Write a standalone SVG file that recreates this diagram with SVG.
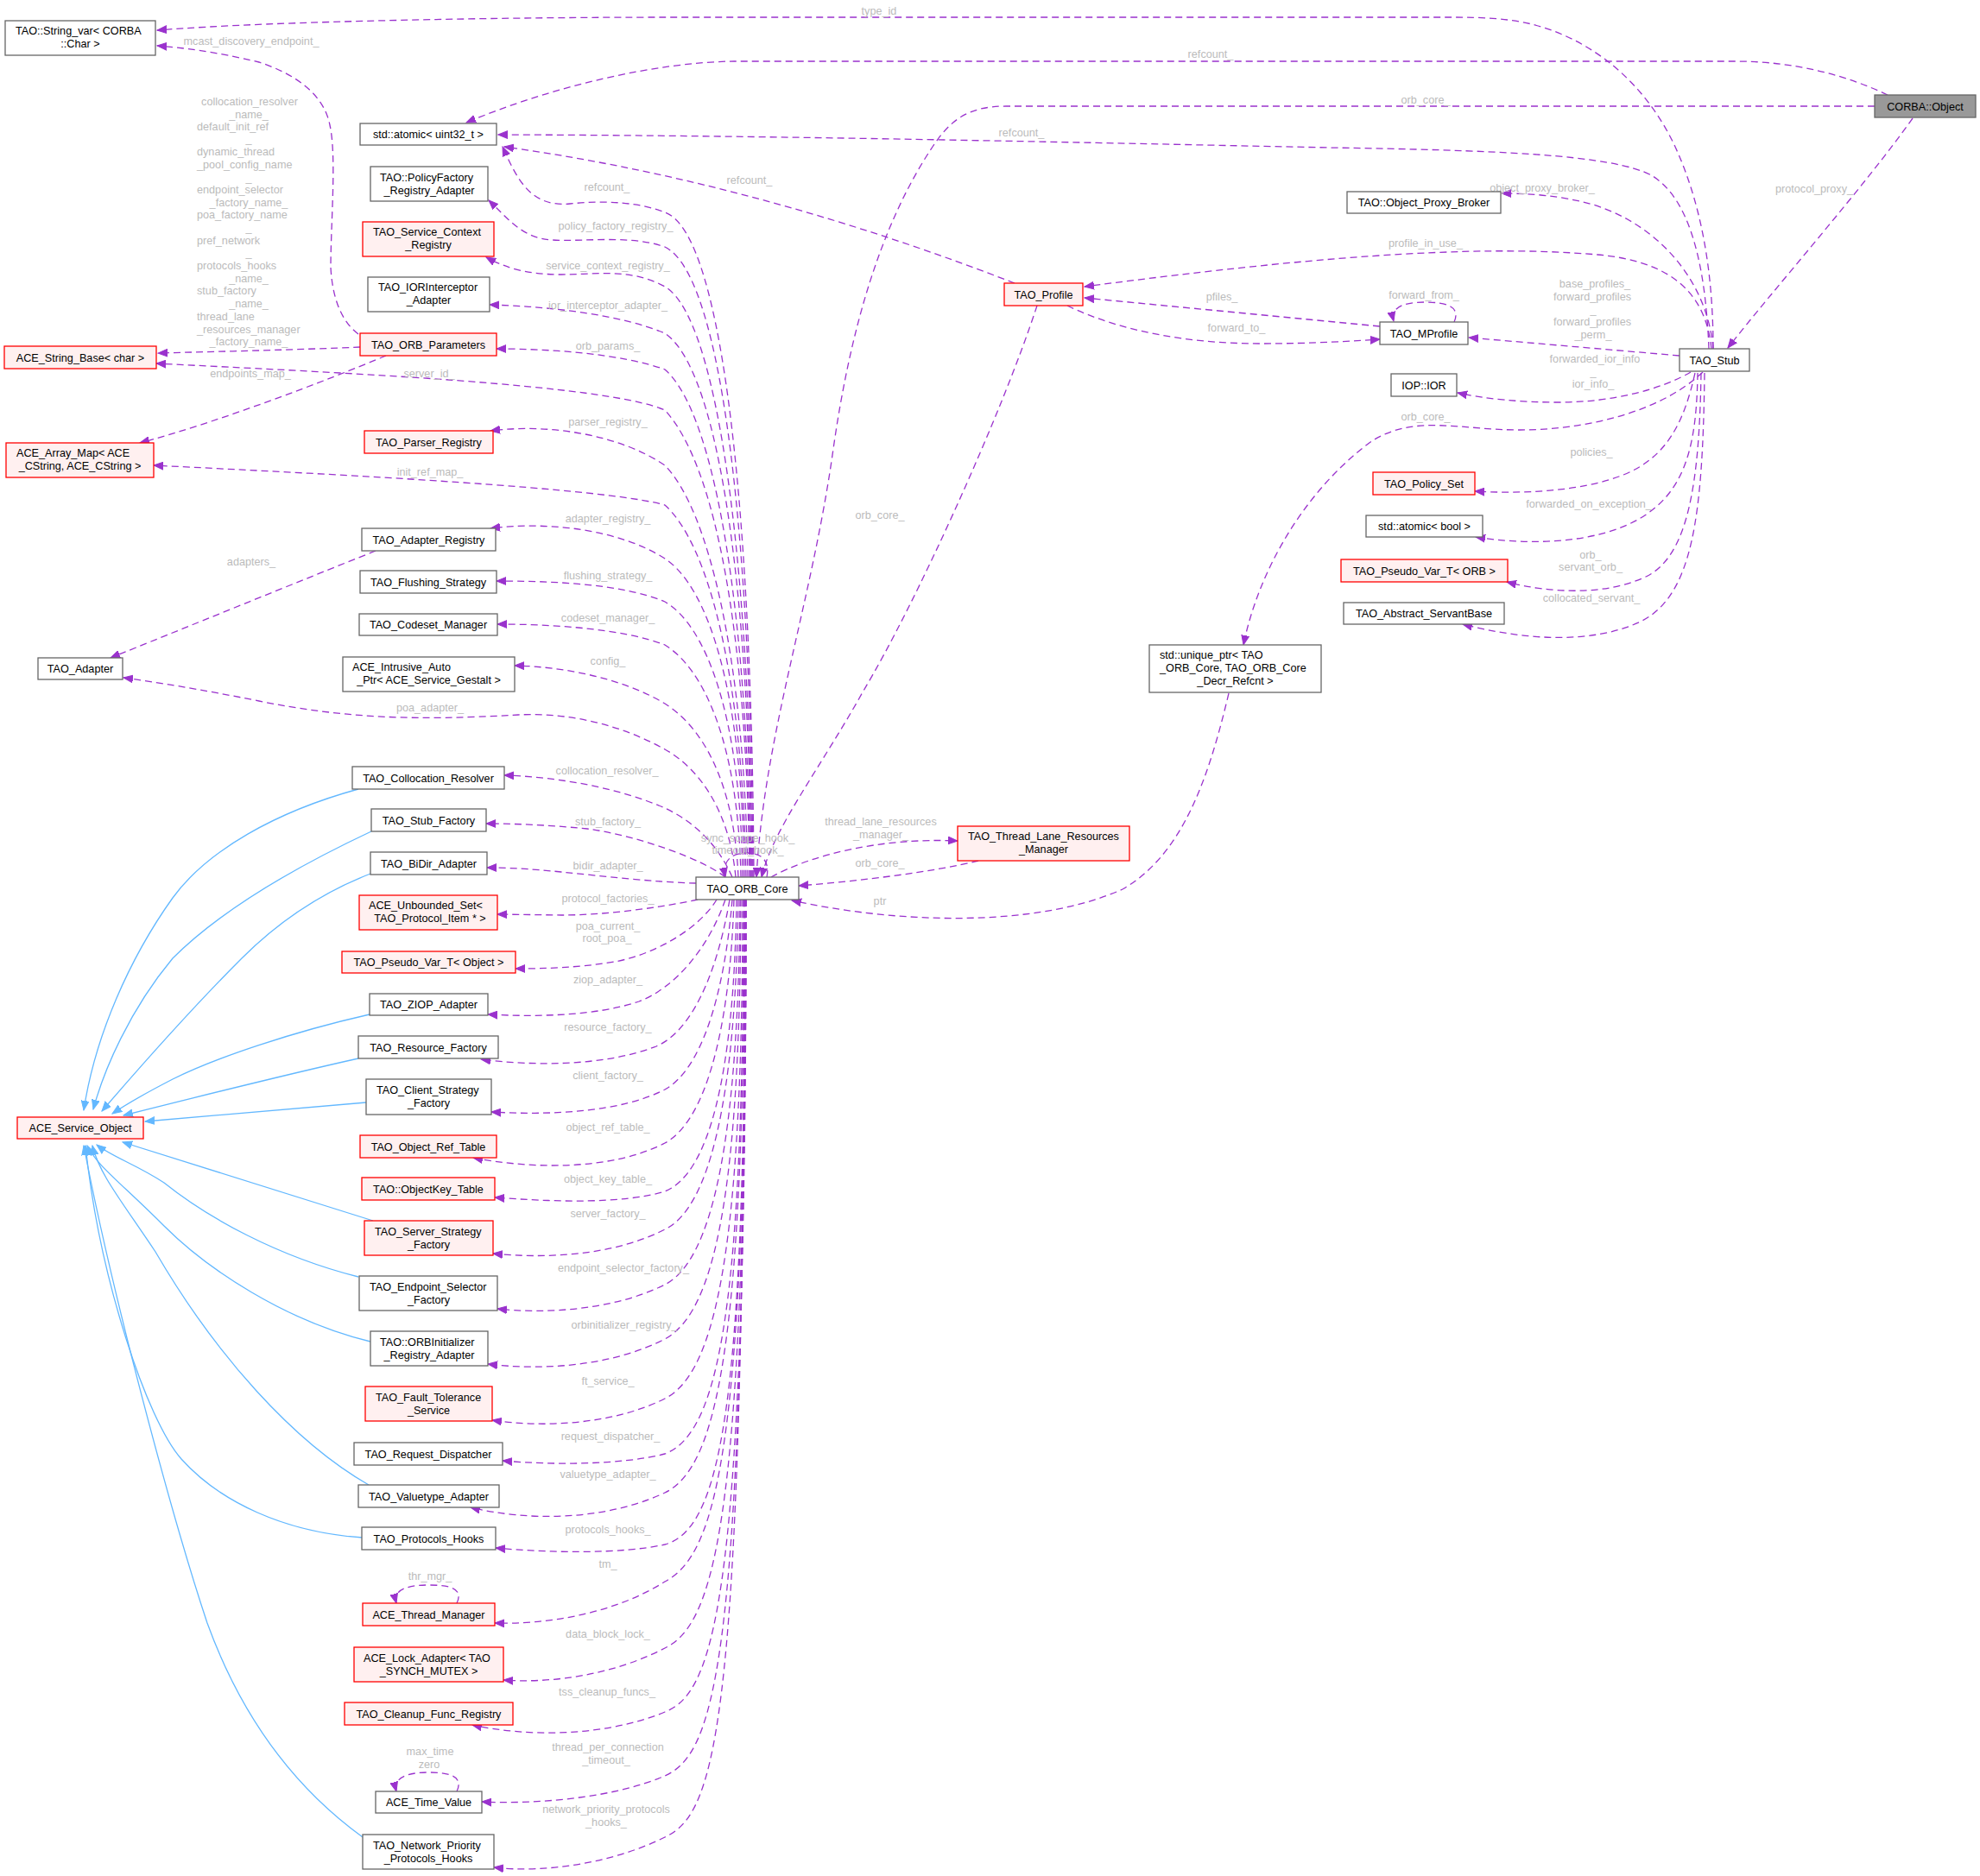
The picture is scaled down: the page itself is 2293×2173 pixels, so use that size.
<svg xmlns="http://www.w3.org/2000/svg" width="2293" height="2173" viewBox="0 0 2293 2173">
<style>
.n{fill:#ffffff;stroke:#666666;stroke-width:1.3}
.r{fill:#fff0f0;stroke:#ff0000;stroke-width:1.3}
.g{fill:#999999;stroke:#666666;stroke-width:1.3}
text{font-family:"Liberation Sans",Arial,sans-serif;font-size:12.67px}
.t{fill:#000000}
.m{text-anchor:middle}
.l{fill:#bbbbbb;text-anchor:middle}
.ls{fill:#bbbbbb;text-anchor:start}
.e{fill:none;stroke:#9a32cd;stroke-width:1.3;stroke-dasharray:8,5;marker-end:url(#ap)}
.b{fill:none;stroke:#63b8ff;stroke-width:1.3;marker-end:url(#ab)}
</style>
<defs>
<marker id="ap" viewBox="0 0 12 10" refX="11" refY="5" markerWidth="12" markerHeight="10" markerUnits="userSpaceOnUse" orient="auto"><path d="M0,0.6 L11,5 L0,9.4 z" fill="#9a32cd" stroke="#9a32cd" stroke-width="1" stroke-dasharray="none"/></marker>
<marker id="ab" viewBox="0 0 12 10" refX="11" refY="5" markerWidth="12" markerHeight="10" markerUnits="userSpaceOnUse" orient="auto"><path d="M0,0.6 L11,5 L0,9.4 z" fill="#63b8ff" stroke="#63b8ff" stroke-width="1" stroke-dasharray="none"/></marker>
</defs>
<rect x="0" y="0" width="2293" height="2173" fill="#ffffff"/>
<g id="edges">
<path class="e" d="M1984,404 C1984,320 1972,240 1940,170 C1905,95 1840,40 1760,25 C1730,20 1700,20 1680,20 L770,20 C600,20 320,24 182,35"/>
<path class="e" d="M2186,110 C2140,88 2080,71 2010,71 L850,71 C760,72 640,100 540,142"/>
<path class="e" d="M2171,123 L1165,123 C1120,123 1100,140 1080,170 C1020,260 985,380 965,520 C940,700 885,850 876,1016"/>
<path class="e" d="M1979,404 C1975,300 1955,230 1914,204 C1870,178 1720,174 1540,171 C1200,164 900,157 577,156"/>
<path class="e" d="M1175,328 C1000,260 800,200 584,170"/>
<path class="e" d="M1984,404 C1978,330 1925,262 1845,237 C1805,226 1770,224 1739,224"/>
<path class="e" d="M2215,137 C2160,215 2050,340 2001,403"/>
<path class="e" d="M1982,404 C1975,335 1930,302 1850,295 C1700,282 1500,300 1256,332"/>
<path class="e" d="M1684,373 C1692,355 1675,350 1650,350 C1625,350 1610,356 1614,372"/>
<path class="e" d="M1945,412 L1701,391"/>
<path class="e" d="M1958,431 C1925,450 1870,466 1805,466 C1760,466 1720,462 1688,455"/>
<path class="e" d="M1598,378 L1256,345"/>
<path class="e" d="M1236,354 C1300,385 1380,398 1460,398 C1520,398 1570,395 1598,393"/>
<path class="e" d="M1972,431 C1920,480 1830,498 1760,498 C1690,498 1640,480 1590,510 C1520,560 1460,650 1440,747"/>
<path class="e" d="M1963,432 C1950,490 1930,530 1880,550 C1830,570 1760,572 1708,569"/>
<path class="e" d="M1966,432 C1965,520 1950,570 1900,600 C1850,630 1770,632 1709,622"/>
<path class="e" d="M1970,432 C1968,560 1955,640 1910,666 C1860,692 1790,686 1745,674"/>
<path class="e" d="M1974,432 C1972,600 1960,690 1900,720 C1840,748 1760,740 1694,723"/>
<path class="e" d="M1201,354 C1160,480 1060,700 1000,800 C950,890 895,960 882,1016"/>
<path class="e" d="M893,1016 C940,990 1020,970 1109,974"/>
<path class="e" d="M1133,997 C1080,1010 1000,1020 925,1026"/>
<path class="e" d="M1423,803 C1400,900 1370,990 1300,1030 C1200,1075 1040,1070 917,1043"/>
<path class="e" d="M888,1016 C892,995 880,988 865,988 C848,988 836,996 840,1016"/>
<path class="e" d="M415,387 C395,372 385,345 383,310 C383,260 390,180 382,145 C375,108 340,85 300,72 C250,60 210,55 182,53"/>
<path class="e" d="M417,402 C350,405 260,407 183,409"/>
<path class="e" d="M447,412 C380,440 250,490 162,513"/>
<path class="e" d="M435,638 C350,672 200,733 128,762"/>
<path class="e" d="M529,1857 C537,1840 522,1836 496,1836 C470,1836 455,1842 459,1857"/>
<path class="e" d="M529,2075 C537,2058 522,2053 496,2053 C470,2053 455,2060 459,2075"/>
<path class="e" d="M873,1016 C871,620 840,270 770,246 C740,234 700,232 660,236 C615,240 600,210 582,170"/>
<path class="e" d="M872,1016 C870,650 840,320 770,286 C730,272 680,280 640,278 C605,276 590,255 566,232"/>
<path class="e" d="M871,1016 C869,680 835,370 770,332 C730,310 690,318 650,318 C610,318 585,310 563,298"/>
<path class="e" d="M870,1016 C868,700 835,430 770,386 C720,365 640,355 567,353"/>
<path class="e" d="M869,1016 C866,720 830,480 770,428 C720,410 640,404 575,404"/>
<path class="e" d="M868,1016 C865,740 830,540 770,475 C700,445 400,432 181,421"/>
<path class="e" d="M866,1016 C862,760 820,590 770,539 C720,505 640,490 568,499"/>
<path class="e" d="M864,1016 C860,780 820,630 770,585 C700,565 400,550 178,539"/>
<path class="e" d="M862,1016 C860,800 820,680 770,647 C720,615 640,603 568,612"/>
<path class="e" d="M860,1016 C858,830 818,725 770,697 C720,676 640,673 575,673"/>
<path class="e" d="M858,1016 C855,860 815,775 770,747 C720,728 640,723 576,723"/>
<path class="e" d="M855,1016 C850,900 810,840 770,815 C720,785 650,772 596,771"/>
<path class="e" d="M852,1016 C845,940 810,890 770,868 C720,840 660,825 600,828 C480,835 400,832 300,812 C230,798 180,790 143,785"/>
<path class="e" d="M848,1016 C830,975 800,950 770,936 C720,914 650,900 584,898"/>
<path class="e" d="M840,1016 C815,996 740,968 680,960 C630,955 590,954 563,954"/>
<path class="e" d="M806,1023 C760,1022 700,1015 650,1010 C610,1006 585,1005 564,1005"/>
<path class="e" d="M808,1042 C760,1052 700,1060 650,1060 L576,1059"/>
<path class="e" d="M830,1042 C810,1075 760,1105 712,1114 C670,1121 630,1122 597,1122"/>
<path class="e" d="M840,1042 C820,1100 780,1145 740,1160 C690,1177 620,1178 565,1175"/>
<path class="e" d="M845,1042 C830,1130 800,1195 760,1212 C700,1235 620,1235 557,1227"/>
<path class="e" d="M848,1042 C838,1160 810,1240 770,1262 C720,1288 640,1292 569,1288"/>
<path class="e" d="M850,1042 C845,1200 815,1300 770,1324 C710,1355 620,1355 548,1341"/>
<path class="e" d="M853,1042 C850,1250 820,1360 770,1380 C720,1395 640,1392 573,1387"/>
<path class="e" d="M855,1042 C852,1280 820,1400 770,1424 C710,1455 630,1458 571,1452"/>
<path class="e" d="M857,1042 C855,1320 825,1460 770,1488 C710,1518 630,1522 576,1516"/>
<path class="e" d="M858,1042 C857,1380 828,1520 770,1551 C710,1582 630,1588 565,1580"/>
<path class="e" d="M860,1042 C860,1440 830,1590 770,1620 C710,1650 630,1654 570,1645"/>
<path class="e" d="M861,1042 C861,1500 835,1660 770,1684 C720,1697 640,1697 582,1692"/>
<path class="e" d="M862,1042 C862,1560 830,1700 770,1729 C700,1762 610,1762 545,1746"/>
<path class="e" d="M863,1042 C863,1600 840,1770 770,1789 C720,1800 640,1799 574,1793"/>
<path class="e" d="M864,1042 C864,1680 830,1800 770,1832 C710,1870 630,1882 573,1880"/>
<path class="e" d="M864,1042 C864,1750 830,1880 770,1909 C710,1940 640,1950 583,1946"/>
<path class="e" d="M864,1042 C864,1840 830,1960 770,1983 C700,2012 610,2012 547,1998"/>
<path class="e" d="M863,1042 C863,1920 830,2030 770,2057 C710,2083 620,2090 558,2087"/>
<path class="e" d="M862,1042 C862,2000 830,2100 770,2128 C710,2158 630,2170 572,2163"/>
<path class="b" d="M415,914 C320,940 240,985 200,1040 C150,1110 110,1200 97,1286"/>
<path class="b" d="M430,963 C330,1010 250,1060 200,1110 C150,1170 120,1240 108,1285"/>
<path class="b" d="M429,1012 C370,1035 320,1070 280,1110 C210,1180 150,1250 118,1287"/>
<path class="b" d="M428,1175 C340,1195 250,1225 200,1250 C165,1268 145,1280 130,1290"/>
<path class="b" d="M415,1226 C330,1245 250,1265 143,1292"/>
<path class="b" d="M424,1277 L168,1299"/>
<path class="b" d="M432,1414 L142,1323"/>
<path class="b" d="M415,1479 C320,1455 240,1410 190,1370 C160,1350 130,1340 112,1326"/>
<path class="b" d="M429,1554 C330,1530 240,1470 190,1420 C140,1370 112,1350 101,1327"/>
<path class="b" d="M427,1720 C340,1670 250,1570 180,1450 C140,1390 115,1360 107,1327"/>
<path class="b" d="M420,1781 C330,1775 255,1740 210,1690 C170,1645 115,1480 99,1327"/>
<path class="b" d="M420,2128 C340,2070 280,1990 240,1880 C200,1760 130,1500 97,1327"/>
<text class="l" x="1018" y="16.5">type_id</text>
<text class="l" x="1402" y="67">refcount_</text>
<text class="l" x="1651" y="119.5">orb_core_</text>
<text class="l" x="1183" y="157.5">refcount_</text>
<text class="l" x="868" y="212.5">refcount_</text>
<text class="l" x="1786" y="221.5">object_proxy_broker_</text>
<text class="l" x="2101" y="223">protocol_proxy_</text>
<text class="l" x="1651" y="285.5">profile_in_use_</text>
<text class="l" x="1649" y="346">forward_from_</text>
<text class="l" x="1415" y="348">pfiles_</text>
<text class="l" x="1432" y="384">forward_to_</text>
<text class="l" x="1847" y="333">base_profiles_</text>
<text class="l" x="1844" y="348">forward_profiles</text>
<text class="l" x="1845" y="362.5">_</text>
<text class="l" x="1844" y="377">forward_profiles</text>
<text class="l" x="1845" y="392">_perm_</text>
<text class="l" x="1847" y="420">forwarded_ior_info</text>
<text class="l" x="1845" y="434.5">_</text>
<text class="l" x="1845" y="449">ior_info_</text>
<text class="l" x="1651" y="487">orb_core_</text>
<text class="l" x="1843" y="528">policies_</text>
<text class="l" x="1840" y="588">forwarded_on_exception_</text>
<text class="l" x="1842" y="647">orb_</text>
<text class="l" x="1842" y="661">servant_orb_</text>
<text class="l" x="1843" y="697">collocated_servant_</text>
<text class="l" x="1019" y="600.5">orb_core_</text>
<text class="l" x="1020" y="956">thread_lane_resources</text>
<text class="l" x="1020" y="971">_manager_</text>
<text class="l" x="1019" y="1004">orb_core_</text>
<text class="l" x="1019" y="1047.5">ptr</text>
<text class="l" x="866" y="974.5">sync_scope_hook_</text>
<text class="l" x="866" y="989">timeout_hook_</text>
<text class="l" x="291" y="51.5">mcast_discovery_endpoint_</text>
<text class="l" x="289" y="121.5">collocation_resolver</text>
<text class="l" x="288" y="136.5">_name_</text>
<text class="ls" x="228" y="151">default_init_ref</text>
<text class="l" x="288" y="165">_</text>
<text class="ls" x="228" y="180">dynamic_thread</text>
<text class="ls" x="228" y="195">_pool_config_name</text>
<text class="l" x="288" y="209.5">_</text>
<text class="ls" x="228" y="224">endpoint_selector</text>
<text class="l" x="288" y="239">_factory_name_</text>
<text class="ls" x="228" y="253">poa_factory_name</text>
<text class="l" x="288" y="268">_</text>
<text class="ls" x="228" y="283">pref_network</text>
<text class="l" x="288" y="297">_</text>
<text class="ls" x="228" y="312">protocols_hooks</text>
<text class="l" x="288" y="327">_name_</text>
<text class="ls" x="228" y="341">stub_factory</text>
<text class="l" x="288" y="356">_name_</text>
<text class="ls" x="228" y="371">thread_lane</text>
<text class="ls" x="228" y="385.5">_resources_manager</text>
<text class="l" x="288" y="400">_factory_name_</text>
<text class="l" x="290" y="436.5">endpoints_map_</text>
<text class="l" x="291" y="655">adapters_</text>
<text class="l" x="497" y="436.5">server_id_</text>
<text class="l" x="498" y="550.5">init_ref_map_</text>
<text class="l" x="498" y="824">poa_adapter_</text>
<text class="l" x="498" y="1830">thr_mgr_</text>
<text class="l" x="498" y="2033">max_time</text>
<text class="l" x="497" y="2047.5">zero</text>
<text class="l" x="703" y="220.5">refcount_</text>
<text class="l" x="713" y="266">policy_factory_registry_</text>
<text class="l" x="704" y="311.5">service_context_registry_</text>
<text class="l" x="704" y="357.5">ior_interceptor_adapter_</text>
<text class="l" x="704" y="405">orb_params_</text>
<text class="l" x="704" y="492.5">parser_registry_</text>
<text class="l" x="704" y="605">adapter_registry_</text>
<text class="l" x="704" y="671">flushing_strategy_</text>
<text class="l" x="704" y="720">codeset_manager_</text>
<text class="l" x="704" y="769.5">config_</text>
<text class="l" x="703" y="897">collocation_resolver_</text>
<text class="l" x="704" y="956">stub_factory_</text>
<text class="l" x="704" y="1006.5">bidir_adapter_</text>
<text class="l" x="704" y="1045">protocol_factories_</text>
<text class="l" x="704" y="1076.5">poa_current_</text>
<text class="l" x="703" y="1091">root_poa_</text>
<text class="l" x="704" y="1139">ziop_adapter_</text>
<text class="l" x="704" y="1193.5">resource_factory_</text>
<text class="l" x="704" y="1249.5">client_factory_</text>
<text class="l" x="704" y="1309.5">object_ref_table_</text>
<text class="l" x="704" y="1369.5">object_key_table_</text>
<text class="l" x="704" y="1409.5">server_factory_</text>
<text class="l" x="722" y="1473">endpoint_selector_factory_</text>
<text class="l" x="723" y="1539">orbinitializer_registry_</text>
<text class="l" x="704" y="1604">ft_service_</text>
<text class="l" x="707" y="1668">request_dispatcher_</text>
<text class="l" x="704" y="1712">valuetype_adapter_</text>
<text class="l" x="704" y="1776">protocols_hooks_</text>
<text class="l" x="704" y="1816">tm_</text>
<text class="l" x="704" y="1896.5">data_block_lock_</text>
<text class="l" x="703" y="1964">tss_cleanup_funcs_</text>
<text class="l" x="704" y="2027.5">thread_per_connection</text>
<text class="l" x="702" y="2042.5">_timeout_</text>
<text class="l" x="702" y="2100">network_priority_protocols</text>
<text class="l" x="702" y="2115">_hooks_</text>
</g>
<g id="n_corba_object"><rect class="g" x="2171" y="110" width="117" height="26"/><text class="t m" x="2229.5" y="127.5">CORBA::Object</text></g>
<g id="n_string_var"><rect class="n" x="6" y="24" width="174" height="40"/><text class="t" x="18" y="40">TAO::String_var&lt; CORBA</text><text class="t m" x="93" y="55">::Char &gt;</text></g>
<g id="n_atomic_uint32"><rect class="n" x="417" y="143" width="158" height="25"/><text class="t m" x="496" y="160">std::atomic&lt; uint32_t &gt;</text></g>
<g id="n_policyfactory"><rect class="n" x="429" y="193" width="136" height="40"/><text class="t" x="440" y="209.5">TAO::PolicyFactory</text><text class="t m" x="497" y="224.5">_Registry_Adapter</text></g>
<g id="n_service_context"><rect class="r" x="420" y="257" width="152" height="40"/><text class="t" x="432" y="273">TAO_Service_Context</text><text class="t m" x="496" y="288">_Registry</text></g>
<g id="n_iorinterceptor"><rect class="n" x="426" y="321" width="141" height="40"/><text class="t" x="438" y="337">TAO_IORInterceptor</text><text class="t m" x="496.5" y="352">_Adapter</text></g>
<g id="n_orb_parameters"><rect class="r" x="417" y="386" width="158" height="26"/><text class="t m" x="496" y="403.5">TAO_ORB_Parameters</text></g>
<g id="n_string_base"><rect class="r" x="5" y="401" width="176" height="26"/><text class="t m" x="93" y="418.5">ACE_String_Base&lt; char &gt;</text></g>
<g id="n_parser_registry"><rect class="r" x="422" y="499" width="149" height="26"/><text class="t m" x="496.5" y="516.5">TAO_Parser_Registry</text></g>
<g id="n_array_map"><rect class="r" x="7" y="513" width="171" height="40"/><text class="t" x="19" y="529">ACE_Array_Map&lt; ACE</text><text class="t m" x="92.5" y="544">_CString, ACE_CString &gt;</text></g>
<g id="n_adapter_registry"><rect class="n" x="419" y="612" width="155" height="26"/><text class="t m" x="496.5" y="629.5">TAO_Adapter_Registry</text></g>
<g id="n_flushing"><rect class="n" x="417" y="661" width="158" height="26"/><text class="t m" x="496" y="678.5">TAO_Flushing_Strategy</text></g>
<g id="n_codeset"><rect class="n" x="416" y="711" width="160" height="25"/><text class="t m" x="496" y="728">TAO_Codeset_Manager</text></g>
<g id="n_tao_adapter"><rect class="n" x="44" y="762" width="98" height="25"/><text class="t m" x="93" y="779">TAO_Adapter</text></g>
<g id="n_intrusive"><rect class="n" x="397" y="761" width="199" height="40"/><text class="t" x="408" y="777">ACE_Intrusive_Auto</text><text class="t m" x="496.5" y="792">_Ptr&lt; ACE_Service_Gestalt &gt;</text></g>
<g id="n_collocation"><rect class="n" x="408" y="888" width="176" height="26"/><text class="t m" x="496" y="905.5">TAO_Collocation_Resolver</text></g>
<g id="n_stub_factory"><rect class="n" x="430" y="937" width="133" height="26"/><text class="t m" x="496.5" y="954.5">TAO_Stub_Factory</text></g>
<g id="n_bidir"><rect class="n" x="429" y="987" width="135" height="26"/><text class="t m" x="496.5" y="1004.5">TAO_BiDir_Adapter</text></g>
<g id="n_unbounded_set"><rect class="r" x="416" y="1037" width="160" height="40"/><text class="t" x="427" y="1053">ACE_Unbounded_Set&lt;</text><text class="t m" x="498" y="1068">TAO_Protocol_Item * &gt;</text></g>
<g id="n_pseudo_object"><rect class="r" x="396" y="1102" width="201" height="25"/><text class="t m" x="496.5" y="1119">TAO_Pseudo_Var_T&lt; Object &gt;</text></g>
<g id="n_ziop"><rect class="n" x="428" y="1151" width="137" height="25"/><text class="t m" x="496.5" y="1168">TAO_ZIOP_Adapter</text></g>
<g id="n_resource"><rect class="n" x="415" y="1200" width="162" height="26"/><text class="t m" x="496" y="1217.5">TAO_Resource_Factory</text></g>
<g id="n_client_strategy"><rect class="n" x="424" y="1250" width="145" height="41"/><text class="t" x="436" y="1267">TAO_Client_Strategy</text><text class="t m" x="496.5" y="1282">_Factory</text></g>
<g id="n_service_object"><rect class="r" x="20" y="1294" width="146" height="25"/><text class="t m" x="93" y="1311">ACE_Service_Object</text></g>
<g id="n_object_ref_table"><rect class="r" x="417" y="1315" width="158" height="26"/><text class="t m" x="496" y="1332.5">TAO_Object_Ref_Table</text></g>
<g id="n_objectkey_table"><rect class="r" x="419" y="1364" width="154" height="26"/><text class="t m" x="496" y="1381.5">TAO::ObjectKey_Table</text></g>
<g id="n_server_strategy"><rect class="r" x="422" y="1414" width="149" height="40"/><text class="t" x="434" y="1431">TAO_Server_Strategy</text><text class="t m" x="496.5" y="1446">_Factory</text></g>
<g id="n_endpoint_selector"><rect class="n" x="416" y="1478" width="160" height="40"/><text class="t" x="428" y="1495">TAO_Endpoint_Selector</text><text class="t m" x="496.5" y="1510">_Factory</text></g>
<g id="n_orbinitializer"><rect class="n" x="429" y="1542" width="136" height="40"/><text class="t" x="440" y="1559">TAO::ORBInitializer</text><text class="t m" x="497" y="1574">_Registry_Adapter</text></g>
<g id="n_fault_tolerance"><rect class="r" x="423" y="1606" width="147" height="40"/><text class="t" x="435" y="1623">TAO_Fault_Tolerance</text><text class="t m" x="496.5" y="1638">_Service</text></g>
<g id="n_request_dispatcher"><rect class="n" x="410" y="1671" width="172" height="26"/><text class="t m" x="496" y="1688.5">TAO_Request_Dispatcher</text></g>
<g id="n_valuetype"><rect class="n" x="415" y="1720" width="163" height="26"/><text class="t m" x="496.5" y="1737.5">TAO_Valuetype_Adapter</text></g>
<g id="n_protocols_hooks"><rect class="n" x="419" y="1769" width="155" height="26"/><text class="t m" x="496.5" y="1786.5">TAO_Protocols_Hooks</text></g>
<g id="n_thread_manager"><rect class="r" x="420" y="1857" width="153" height="26"/><text class="t m" x="496.5" y="1874.5">ACE_Thread_Manager</text></g>
<g id="n_lock_adapter"><rect class="r" x="410" y="1908" width="173" height="40"/><text class="t" x="421" y="1924.5">ACE_Lock_Adapter&lt; TAO</text><text class="t m" x="496.5" y="1939.5">_SYNCH_MUTEX &gt;</text></g>
<g id="n_cleanup"><rect class="r" x="399" y="1972" width="195" height="26"/><text class="t m" x="496.5" y="1989.5">TAO_Cleanup_Func_Registry</text></g>
<g id="n_time_value"><rect class="n" x="435" y="2075" width="123" height="25"/><text class="t m" x="496.5" y="2092">ACE_Time_Value</text></g>
<g id="n_network_priority"><rect class="n" x="420" y="2125" width="152" height="40"/><text class="t" x="432" y="2141.5">TAO_Network_Priority</text><text class="t m" x="496" y="2156.5">_Protocols_Hooks</text></g>
<g id="n_orb_core"><rect class="n" x="806" y="1016" width="119" height="26"/><text class="t m" x="865.5" y="1033.5">TAO_ORB_Core</text></g>
<g id="n_profile"><rect class="r" x="1163" y="328" width="91" height="26"/><text class="t m" x="1208.5" y="345.5">TAO_Profile</text></g>
<g id="n_tlrm"><rect class="r" x="1109" y="957" width="199" height="40"/><text class="t" x="1121" y="973">TAO_Thread_Lane_Resources</text><text class="t m" x="1208.5" y="988">_Manager</text></g>
<g id="n_unique_ptr"><rect class="n" x="1331" y="747" width="199" height="55"/><text class="t" x="1343" y="763">std::unique_ptr&lt; TAO</text><text class="t" x="1343" y="778">_ORB_Core, TAO_ORB_Core</text><text class="t m" x="1430.5" y="793">_Decr_Refcnt &gt;</text></g>
<g id="n_object_proxy_broker"><rect class="n" x="1560" y="222" width="178" height="25"/><text class="t m" x="1649" y="239">TAO::Object_Proxy_Broker</text></g>
<g id="n_mprofile"><rect class="n" x="1598" y="373" width="102" height="26"/><text class="t m" x="1649" y="390.5">TAO_MProfile</text></g>
<g id="n_stub"><rect class="n" x="1945" y="404" width="81" height="26"/><text class="t m" x="1985.5" y="421.5">TAO_Stub</text></g>
<g id="n_ior"><rect class="n" x="1611" y="433" width="76" height="26"/><text class="t m" x="1649" y="450.5">IOP::IOR</text></g>
<g id="n_policy_set"><rect class="r" x="1590" y="547" width="118" height="26"/><text class="t m" x="1649" y="564.5">TAO_Policy_Set</text></g>
<g id="n_atomic_bool"><rect class="n" x="1582" y="597" width="135" height="25"/><text class="t m" x="1649.5" y="614">std::atomic&lt; bool &gt;</text></g>
<g id="n_pseudo_orb"><rect class="r" x="1553" y="648" width="193" height="26"/><text class="t m" x="1649.5" y="665.5">TAO_Pseudo_Var_T&lt; ORB &gt;</text></g>
<g id="n_servantbase"><rect class="n" x="1556" y="698" width="186" height="25"/><text class="t m" x="1649" y="715">TAO_Abstract_ServantBase</text></g>
</svg>
